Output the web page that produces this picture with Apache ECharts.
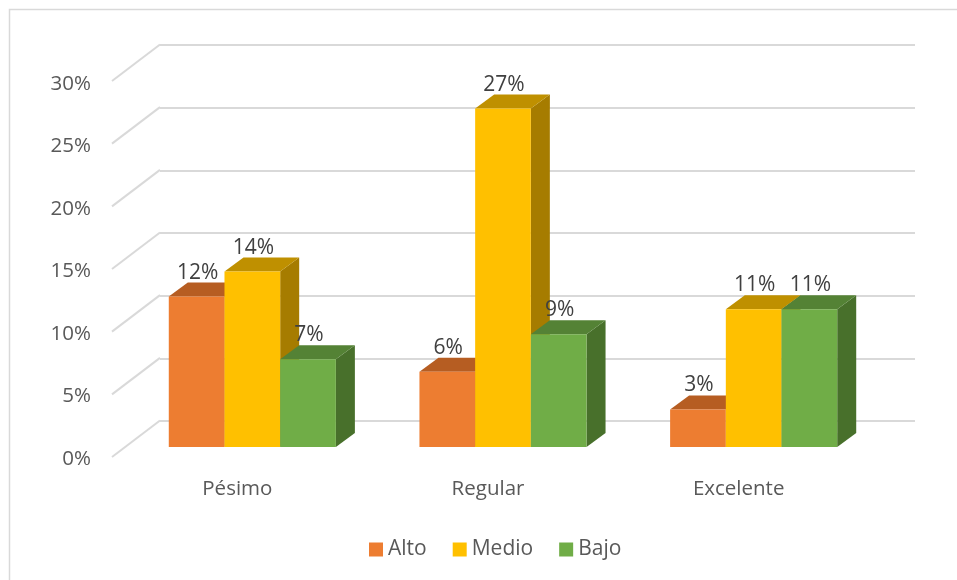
<!DOCTYPE html>
<html><head><meta charset="utf-8">
<style>html,body{margin:0;padding:0;background:#fff}#c{width:957px;height:580px}</style>
<script src="https://cdn.jsdelivr.net/npm/echarts@6/dist/echarts.min.js"></script>
</head><body><div id="c"></div>
<script>
const categories = ['Pésimo','Regular','Excelente'];
const alto = [12,6,3];
const medio = [14,27,11];
const bajo = [7,9,11];
const ticks = [0,5,10,15,20,25,30];
const seriesNames = ['Alto','Medio','Bajo'];
const front = ['#ED7D31','#FFC000','#70AD47'];
const topFace = ['#B65D22','#BF9000','#548235'];
const side = ['#B65D22','#A67C00','#48702B'];
const FONT = '"Open Sans"';
const TXT = '#595959';
const chart = echarts.init(document.getElementById('c'), null, {renderer:'canvas'});

const OFF = [15,-10], DEPTH = [19,-14], BARW = 55.7;

function barSeries(idx, values){
  return {
    name: seriesNames[idx], type:'custom', xAxisIndex:0, yAxisIndex:0, z:5+idx,
    itemStyle:{color:front[idx]},
    data: values.map((v,i)=>[i,v]),
    renderItem(params, api){
      const base = api.coord([api.value(0),0]);
      const top = api.coord([api.value(0),api.value(1)]);
      const x0 = base[0]+OFF[0]+(idx-1.5)*BARW;
      const x1 = x0+BARW;
      const yb = base[1]+OFF[1], yt = top[1]+OFF[1];
      const dx = DEPTH[0], dy = DEPTH[1];
      return {type:'group', children:[
        {type:'polygon',shape:{points:[[x1,yb],[x1+dx,yb+dy],[x1+dx,yt+dy],[x1,yt]]},style:{fill:side[idx]}},
        {type:'polygon',shape:{points:[[x0,yt],[x0+dx,yt+dy],[x1+dx,yt+dy],[x1,yt]]},style:{fill:topFace[idx]}},
        {type:'rect',shape:{x:x0,y:yt,width:BARW,height:yb-yt},style:{fill:front[idx]}}
      ]};
    }
  };
}

// Data labels live in their own top layer so later bars never cover them
function labelSeries(idx, values){
  return {
    type:'custom', xAxisIndex:0, yAxisIndex:0, z:20, silent:true,
    data: values.map((v,i)=>[i,v]),
    renderItem(params, api){
      const base = api.coord([api.value(0),0]);
      const top = api.coord([api.value(0),api.value(1)]);
      const x0 = base[0]+OFF[0]+(idx-1.5)*BARW;
      const yt = top[1]+OFF[1];
      return {type:'text',style:{text:api.value(1)+'%',x:x0+BARW/2+1,y:yt+DEPTH[1]+0.5,align:'center',verticalAlign:'bottom',
        font:'21px '+FONT,fill:'#404040'}};
    }
  };
}

const option = {
  animation:false,
  backgroundColor:'#fff',
  graphic:[
    {type:'polyline',shape:{points:[[9.5,580],[9.5,9.5],[957,9.5]]},style:{stroke:'#D9D9D9',lineWidth:1.5,fill:null},silent:true}
  ],
  grid:[
    {left:112,right:93,top:81,bottom:123},
    {left:160,right:42,top:45,bottom:159},
    {left:112,right:93,top:84,bottom:121}
  ],
  xAxis:[
    {type:'category',gridIndex:0,data:categories,axisLine:{show:false},axisTick:{show:false},
     axisLabel:{margin:22,fontFamily:FONT,fontSize:20.5,color:TXT}},
    {type:'category',gridIndex:1,data:categories,axisLine:{show:false},axisTick:{show:false},axisLabel:{show:false}},
    {type:'category',gridIndex:2,data:categories,axisLine:{show:false},axisTick:{show:false},axisLabel:{show:false}}
  ],
  yAxis:[
    {type:'value',gridIndex:0,min:0,max:30,interval:5,axisLine:{show:false},axisTick:{show:false},splitLine:{show:false},axisLabel:{show:false}},
    {type:'value',gridIndex:1,min:0,max:30,interval:5,axisLine:{show:false},axisTick:{show:false},axisLabel:{show:false},
     splitLine:{lineStyle:{color:'#D9D9D9',width:2}}},
    {type:'value',gridIndex:2,min:0,max:30,interval:5,axisLine:{show:false},axisTick:{show:false},splitLine:{show:false},
     axisLabel:{margin:21,formatter:'{value}%',fontFamily:FONT,fontSize:20.5,color:TXT}}
  ],
  legend:{data:seriesNames,bottom:15,left:364,itemWidth:14,itemHeight:14,itemGap:26,icon:'rect',
    textStyle:{fontFamily:FONT,fontSize:21,color:TXT}},
  series:[
    {type:'custom',name:'walls',xAxisIndex:0,yAxisIndex:0,z:1,silent:true,data:ticks.map(t=>[0,t]),
     renderItem(params,api){
       const p = api.coord([0,api.value(1)]);
       const x = params.coordSys.x;
       return {type:'line',shape:{x1:x,y1:p[1],x2:x+48,y2:p[1]-36.5},style:{stroke:'#D9D9D9',lineWidth:2}};
     }},
    barSeries(0,alto),barSeries(1,medio),barSeries(2,bajo),
    labelSeries(0,alto),labelSeries(1,medio),labelSeries(2,bajo)
  ]
};
chart.setOption(option);
</script></body></html>
